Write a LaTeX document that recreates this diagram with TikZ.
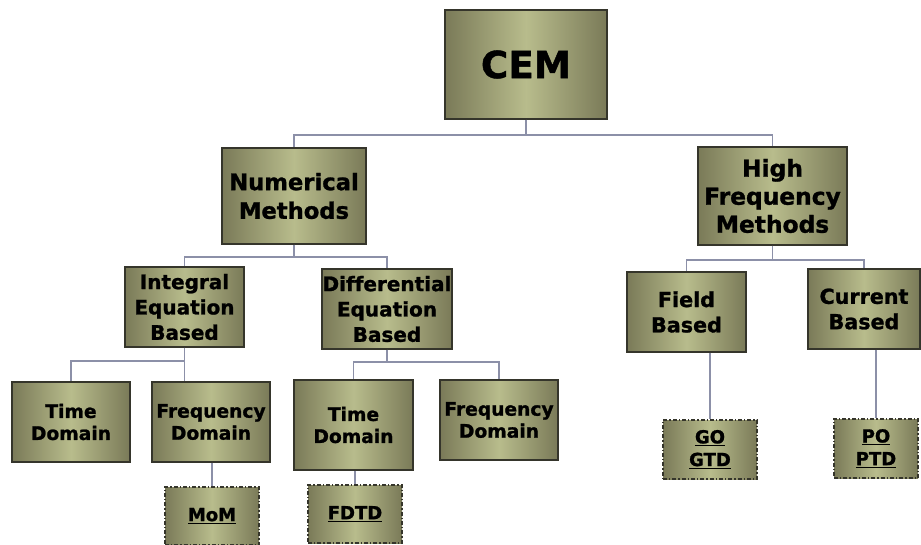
\documentclass[tikz,border=0pt]{standalone}
\usepackage{fontspec}
\setmainfont{DejaVu Sans}[Ligatures=NoCommon,BoldFeatures={FakeBold=1.2}]
\usepackage{xcolor}
\definecolor{boxdark}{HTML}{7A7A58}
\definecolor{boxlight}{HTML}{B8BC8C}
\definecolor{boxline}{HTML}{35352B}
\definecolor{linkline}{HTML}{8C90A8}

\begin{document}
\begin{tikzpicture}[x=0.75pt,y=-0.75pt,semithick]
  \tikzstyle{every node}=[align=center,font=\bfseries]
  \tikzstyle{block}=[draw=boxline,line width=1.1pt,left color=boxdark,
                     right color=boxdark,middle color=boxlight,inner sep=0pt]
  \tikzstyle{leaf}=[block,dash pattern=on 3pt off 1.5pt on 1pt off 1.5pt]
  \tikzstyle{link}=[draw=linkline,line width=1.3pt]

  \useasboundingbox (0,0) rectangle (921,545);

  % top levels
  \node[block,minimum width=121.5pt,minimum height=81.75pt,font=\bfseries\fontsize{28}{32}\selectfont]
       (CEM) at (526,64.5) {CEM};
  \node[block,minimum width=108pt,minimum height=72pt,font=\bfseries\fontsize{17}{21.5}\selectfont]
       (Num) at (294,196) {Numerical\\Methods};
  \node[block,minimum width=111.75pt,minimum height=73.5pt,font=\bfseries\fontsize{17.5}{21}\selectfont]
       (HF) at (772.5,196) {High\\Frequency\\Methods};

  % second level
  \node[block,minimum width=89.25pt,minimum height=60pt,font=\bfseries\fontsize{15}{19}\selectfont]
       (IEB) at (184.5,307) {Integral\\Equation\\Based};
  \node[block,minimum width=97.5pt,minimum height=60pt,font=\bfseries\fontsize{15}{19}\selectfont]
       (DEB) at (387,309) {Differential\\Equation\\Based};
  \node[block,minimum width=89.25pt,minimum height=60pt,font=\bfseries\fontsize{15.5}{19}\selectfont]
       (Field) at (686.5,312) {Field\\Based};
  \node[block,minimum width=84pt,minimum height=60pt,font=\bfseries\fontsize{15.5}{19}\selectfont]
       (Curr) at (864,309) {Current\\Based};

  % third level
  \node[block,minimum width=88.5pt,minimum height=60pt,font=\bfseries\fontsize{14}{16.5}\selectfont]
       (ITime) at (71,422) {Time\\Domain};
  \node[block,minimum width=88.5pt,minimum height=60pt,font=\bfseries\fontsize{14}{16.5}\selectfont]
       (IFreq) at (211,422) {Frequency\\Domain};
  \node[block,minimum width=89.25pt,minimum height=67.5pt,font=\bfseries\fontsize{14}{16.5}\selectfont]
       (DTime) at (353.5,425) {Time\\Domain};
  \node[block,minimum width=88.5pt,minimum height=60pt,font=\bfseries\fontsize{14}{16.5}\selectfont]
       (DFreq) at (499,420) {Frequency\\Domain};

  % methods
  \node[leaf,minimum width=70.5pt,minimum height=43.5pt,font=\bfseries\fontsize{13.5}{16}\selectfont]
       (MoM) at (212,516) {\underline{MoM}};
  \node[leaf,minimum width=70.5pt,minimum height=43.5pt,font=\bfseries\fontsize{13.5}{16}\selectfont]
       (FDTD) at (355,514) {\underline{FDTD}};
  \node[leaf,minimum width=70.5pt,minimum height=44.25pt,font=\bfseries\fontsize{13.5}{17}\selectfont]
       (GO) at (710,449.5) {\underline{GO}\\\underline{GTD}};
  \node[leaf,minimum width=63pt,minimum height=44.25pt,font=\bfseries\fontsize{13.5}{17}\selectfont]
       (PO) at (876,448.5) {\underline{PO}\\\underline{PTD}};

  % connectors
  \draw[link] (CEM.south) -- ++(0,15) -| (Num.north);
  \draw[link] (CEM.south) -- ++(0,15) -| (HF.north);
  \draw[link] (Num.south) -- ++(0,12) -| (IEB.north);
  \draw[link] (Num.south) -- ++(0,12) -| (DEB.north);
  \draw[link] (HF.south) -- ++(0,14) -| (Field.north);
  \draw[link] (HF.south) -- ++(0,14) -| (Curr.north);
  \draw[link] (IEB.south) -- ++(0,13) -| (ITime.north);
  \draw[link] (IEB.south) -- (IEB.south |- IFreq.north);
  \draw[link] (DEB.south) -- ++(0,12) -| (DTime.north);
  \draw[link] (DEB.south) -- ++(0,12) -| (DFreq.north);
  \draw[link] (MoM.north |- IFreq.south) -- (MoM.north);
  \draw[link] (FDTD.north |- DTime.south) -- (FDTD.north);
  \draw[link] (GO.north |- Field.south) -- (GO.north);
  \draw[link] (PO.north |- Curr.south) -- (PO.north);
\end{tikzpicture}
\end{document}
